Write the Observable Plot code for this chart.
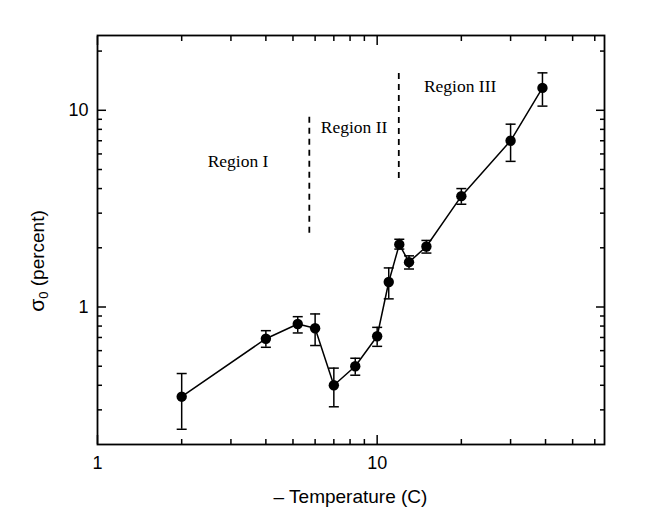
<!DOCTYPE html>
<html><head><meta charset="utf-8">
<script src="https://cdn.jsdelivr.net/npm/d3@7"></script>
<script src="https://cdn.jsdelivr.net/npm/@observablehq/plot@0.6"></script>
<style>body{margin:0;background:#fff}#chart{width:652px;height:530px}</style>
</head><body><div id="chart"></div>
<script>
const temperature = [2, 4, 5.2, 6, 7, 8.35, 10, 11, 12, 13, 15, 20, 30, 39];
const sigma      = [0.35, 0.69, 0.82, 0.78, 0.40, 0.50, 0.71, 1.34, 2.08, 1.69, 2.03, 3.66, 7.0, 13.0];
const sigmaLow   = [0.239, 0.624, 0.738, 0.637, 0.311, 0.45, 0.631, 1.10, 1.97, 1.56, 1.88, 3.33, 5.5, 10.5];
const sigmaHigh  = [0.459, 0.758, 0.893, 0.922, 0.489, 0.549, 0.788, 1.58, 2.21, 1.82, 2.18, 4.0, 8.5, 15.5];
const boundaryX  = [5.72, 11.95];
const boundaryY1 = [2.37, 4.5];
const boundaryY2 = [9.55, 15.6];
const regionNames = ["Region I", "Region II", "Region III"];
const regionX = [3.18, 8.27, 19.8];
const regionY = [5.47, 8.23, 13.3];
const xMajor = [1, 10];
const xMinor = [2, 3, 4, 5, 6, 7, 8, 9, 20, 30, 40, 50, 60];
const yMajor = [1, 10];
const yMinor = [0.3, 0.4, 0.5, 0.6, 0.7, 0.8, 0.9, 2, 3, 4, 5, 6, 7, 8, 9, 20];
const xTitle = "– Temperature (C)";

const points = temperature.map((t, i) => ({t, s: sigma[i], lo: sigmaLow[i], hi: sigmaHigh[i]}));
const bounds = boundaryX.map((x, i) => ({x, y1: boundaryY1[i], y2: boundaryY2[i]}));
const regions = regionNames.map((name, i) => ({name, x: regionX[i], y: regionY[i]}));

const cap = {draw(ctx) { ctx.moveTo(-5, 0); ctx.lineTo(5, 0); }};
const blank = () => "";

const W = 652, H = 530, ML = 97, MR = 48, MT = 35, MB = 86;

const chart = Plot.plot({
  width: W, height: H,
  marginLeft: ML, marginRight: MR, marginTop: MT, marginBottom: MB,
  style: {fontFamily: "Liberation Sans, Arial, sans-serif", fontSize: "18px", color: "black", background: "white"},
  x: {type: "log", domain: [1, 65]},
  y: {type: "log", domain: [0.2, 24]},
  marks: [
    Plot.axisX({anchor: "bottom", ticks: xMajor, tickSize: 0, tickPadding: 12, tickFormat: d => String(d), label: null, fontSize: 18}),
    Plot.axisX({anchor: "bottom", ticks: xMajor, tickSize: -9, tickFormat: blank, label: null, strokeWidth: 1.5}),
    Plot.axisX({anchor: "bottom", ticks: xMinor, tickSize: -5, tickFormat: blank, label: null, strokeWidth: 1.5}),
    Plot.axisX({anchor: "top", ticks: xMajor, tickSize: -9, tickFormat: blank, label: null, strokeWidth: 1.5}),
    Plot.axisX({anchor: "top", ticks: xMinor, tickSize: -5, tickFormat: blank, label: null, strokeWidth: 1.5}),
    Plot.axisY({anchor: "left", ticks: yMajor, tickSize: 0, tickPadding: 9, tickFormat: d => String(d), label: null, fontSize: 18}),
    Plot.axisY({anchor: "left", ticks: yMajor, tickSize: -9, tickFormat: blank, label: null, strokeWidth: 1.5}),
    Plot.axisY({anchor: "left", ticks: yMinor, tickSize: -5, tickFormat: blank, label: null, strokeWidth: 1.5}),
    Plot.axisY({anchor: "right", ticks: yMajor, tickSize: -9, tickFormat: blank, label: null, strokeWidth: 1.5}),
    Plot.axisY({anchor: "right", ticks: yMinor, tickSize: -5, tickFormat: blank, label: null, strokeWidth: 1.5}),
    Plot.frame({stroke: "black", strokeWidth: 1.8}),
    Plot.ruleX(bounds, {x: "x", y1: "y1", y2: "y2", stroke: "black", strokeWidth: 1.8, strokeDasharray: "6,5"}),
    Plot.text(regions, {x: "x", y: "y", text: "name", fontFamily: "Liberation Serif, Times New Roman, serif", fontSize: 17.5, fill: "black"}),
    Plot.line(points, {x: "t", y: "s", stroke: "black", strokeWidth: 1.5}),
    Plot.ruleX(points, {x: "t", y1: "lo", y2: "hi", stroke: "black", strokeWidth: 1.5}),
    Plot.dot(points, {x: "t", y: "lo", symbol: cap, stroke: "black", strokeWidth: 1.5}),
    Plot.dot(points, {x: "t", y: "hi", symbol: cap, stroke: "black", strokeWidth: 1.5}),
    Plot.dot(points, {x: "t", y: "s", r: 5.2, fill: "black", stroke: "none"})
  ]
});

const svg = d3.select(chart);
svg.append("text")
  .attr("x", ML + (W - ML - MR) / 2).attr("y", 503)
  .attr("text-anchor", "middle")
  .attr("font-family", "Liberation Sans, Arial, sans-serif")
  .attr("font-size", 19).attr("fill", "black")
  .text(xTitle);

const yl = svg.append("text")
  .attr("transform", "translate(44,261) rotate(-90)")
  .attr("text-anchor", "middle")
  .attr("font-family", "Liberation Sans, Arial, sans-serif")
  .attr("font-size", 19).attr("fill", "black");
yl.append("tspan").attr("font-size", 21).text("σ");
yl.append("tspan").attr("font-size", 13).attr("dy", 4).text("0");
yl.append("tspan").attr("dy", -4).text(" (percent)");

document.getElementById("chart").appendChild(chart);
</script>
</body></html>
